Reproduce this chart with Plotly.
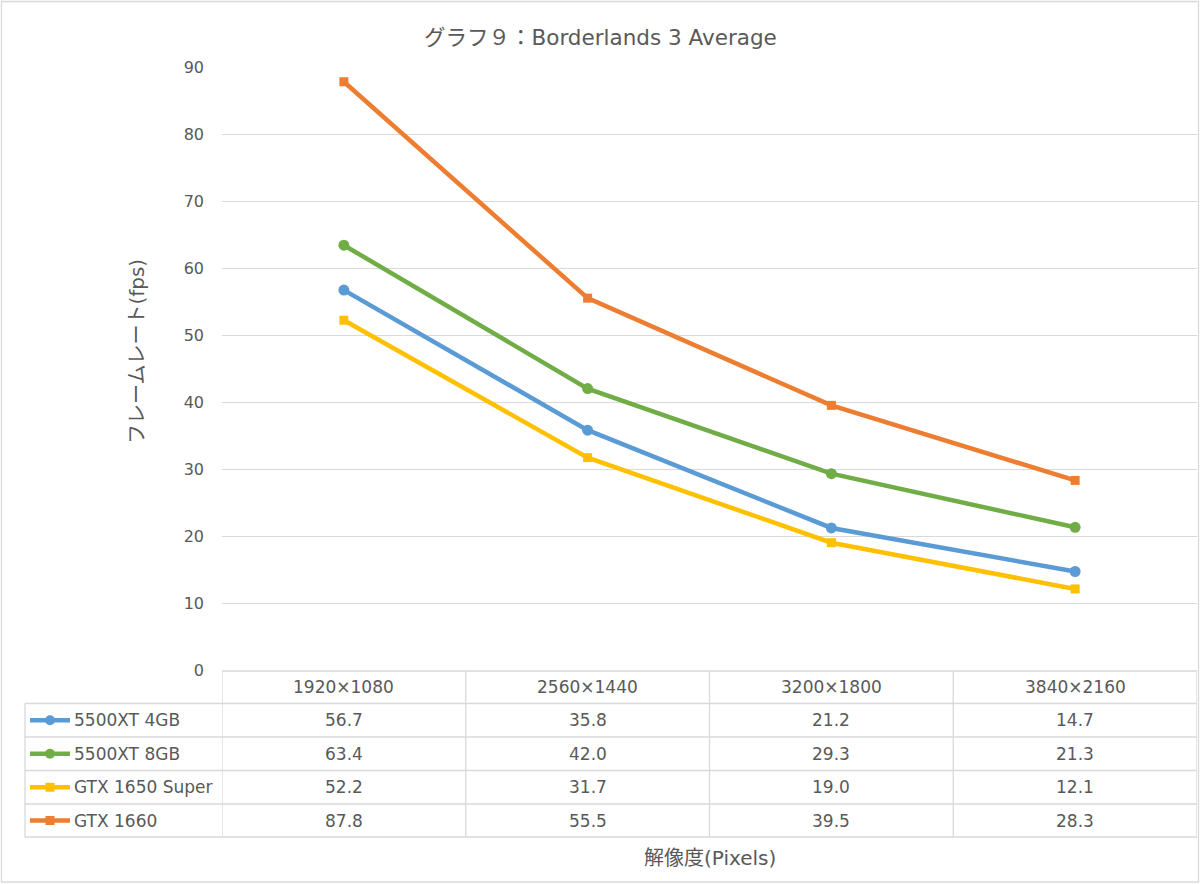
import plotly.graph_objects as go

categories = ["1920×1080", "2560×1440", "3200×1800", "3840×2160"]
series_names = ["5500XT 4GB", "5500XT 8GB", "GTX 1650 Super", "GTX 1660"]
v_5500xt_4gb = [56.7, 35.8, 21.2, 14.7]
v_5500xt_8gb = [63.4, 42.0, 29.3, 21.3]
v_gtx1650s = [52.2, 31.7, 19.0, 12.1]
v_gtx1660 = [87.8, 55.5, 39.5, 28.3]
series_values = [v_5500xt_4gb, v_5500xt_8gb, v_gtx1650s, v_gtx1660]
colors = ["#5B9BD5", "#70AD47", "#FFC000", "#ED7D31"]
symbols = ["circle", "circle", "square", "square"]
y_ticks = [0, 10, 20, 30, 40, 50, 60, 70, 80, 90]

FONT = "DejaVu Sans, Noto Sans CJK JP, sans-serif"
TXT = "#595959"
GRID = "#D9D9D9"
W, H = 1200, 884
L, R, T, B = 222, 3, 67, 214
PW, PH = W - L - R, H - T - B


def px(x):
    return (x - L) / PW


def py(y):
    return (H - B - y) / PH


fig = go.Figure()
xs = list(range(len(categories)))
for name, vals, col, sym in zip(series_names, series_values, colors, symbols):
    fig.add_trace(go.Scatter(
        x=xs, y=vals, mode="lines+markers", name=name,
        line=dict(color=col, width=4.5),
        marker=dict(color=col, size=11 if sym == "circle" else 9, symbol=sym),
        showlegend=False, cliponaxis=False,
    ))

shapes = []
annotations = []

row_tops = [671, 703.5, 737, 770.5, 804, 837]
left_px = 25
shapes.append(dict(type="line", xref="paper", yref="paper", x0=0, x1=1,
                   y0=py(row_tops[0]), y1=py(row_tops[0]),
                   line=dict(color=GRID, width=1.3)))
for yy in row_tops[1:]:
    shapes.append(dict(type="line", xref="paper", yref="paper", x0=px(left_px), x1=1,
                       y0=py(yy), y1=py(yy), line=dict(color=GRID, width=1.3)))
for k in range(len(categories) + 1):
    shapes.append(dict(type="line", xref="x", yref="paper", x0=k - 0.5, x1=k - 0.5,
                       y0=py(row_tops[0]), y1=py(row_tops[-1]),
                       line=dict(color=GRID, width=1.3)))
shapes.append(dict(type="line", xref="paper", yref="paper", x0=px(left_px), x1=px(left_px),
                   y0=py(row_tops[1]), y1=py(row_tops[-1]),
                   line=dict(color=GRID, width=1.3)))

TF = dict(family=FONT, size=17, color=TXT)
for i, c in enumerate(categories):
    annotations.append(dict(x=i, y=py((row_tops[0] + row_tops[1]) / 2), xref="x", yref="paper",
                            xanchor="center", yanchor="middle",
                            text=c, showarrow=False, font=TF))
for r, (name, vals, col, sym) in enumerate(zip(series_names, series_values, colors, symbols)):
    yc = (row_tops[r + 1] + row_tops[r + 2]) / 2
    for i, v in enumerate(vals):
        annotations.append(dict(x=i, y=py(yc), xref="x", yref="paper",
                                xanchor="center", yanchor="middle",
                                text=f"{v:.1f}", showarrow=False, font=TF))
    annotations.append(dict(x=px(72), y=py(yc), xref="paper", yref="paper",
                            xanchor="left", yanchor="middle",
                            text=name, showarrow=False, font=TF))
    shapes.append(dict(type="line", xref="paper", yref="paper", x0=px(30), x1=px(70),
                       y0=py(yc), y1=py(yc), line=dict(color=col, width=4.5)))
    if sym == "circle":
        rr = 5
        shapes.append(dict(type="circle", xref="paper", yref="paper",
                           x0=px(50 - rr), x1=px(50 + rr), y0=py(yc - rr), y1=py(yc + rr),
                           fillcolor=col, line=dict(color=col, width=0)))
    else:
        rr = 4.5
        shapes.append(dict(type="rect", xref="paper", yref="paper",
                           x0=px(50 - rr), x1=px(50 + rr), y0=py(yc - rr), y1=py(yc + rr),
                           fillcolor=col, line=dict(color=col, width=0)))

shapes.append(dict(type="rect", xref="paper", yref="paper",
                   x0=px(1.5), x1=px(1198.5), y0=py(882), y1=py(1.5),
                   line=dict(color=GRID, width=1.3)))

annotations.append(dict(x=px(600), y=py(37), xref="paper", yref="paper",
                        xanchor="center", yanchor="middle",
                        text="グラフ９：Borderlands 3 Average",
                        showarrow=False, font=dict(family=FONT, size=21.5, color=TXT)))
annotations.append(dict(x=px(137), y=py(352), xref="paper", yref="paper",
                        xanchor="center", yanchor="middle",
                        text="フレームレート(fps)",
                        textangle=-90, showarrow=False, font=dict(family=FONT, size=20, color=TXT)))
annotations.append(dict(x=px(710), y=py(858), xref="paper", yref="paper",
                        xanchor="center", yanchor="middle",
                        text="解像度(Pixels)",
                        showarrow=False, font=dict(family=FONT, size=20, color=TXT)))

fig.update_layout(
    width=W, height=H,
    margin=dict(l=L, r=R, t=T, b=B, pad=0),
    paper_bgcolor="white", plot_bgcolor="white",
    shapes=shapes, annotations=annotations,
    showlegend=False,
    xaxis=dict(range=[-0.5, 3.5], tickvals=xs, showticklabels=False, showgrid=False,
               zeroline=False, showline=False, fixedrange=True),
    yaxis=dict(range=[0, 90], tickvals=y_ticks, showgrid=True, gridcolor=GRID, gridwidth=1.3,
               zeroline=False, showline=False, ticks="", ticklabelstandoff=17,
               tickfont=dict(family=FONT, size=16, color=TXT), fixedrange=True),
)

fig.write_html("out.html", config={"displayModeBar": False},
               post_script="document.body.style.margin='0';")
